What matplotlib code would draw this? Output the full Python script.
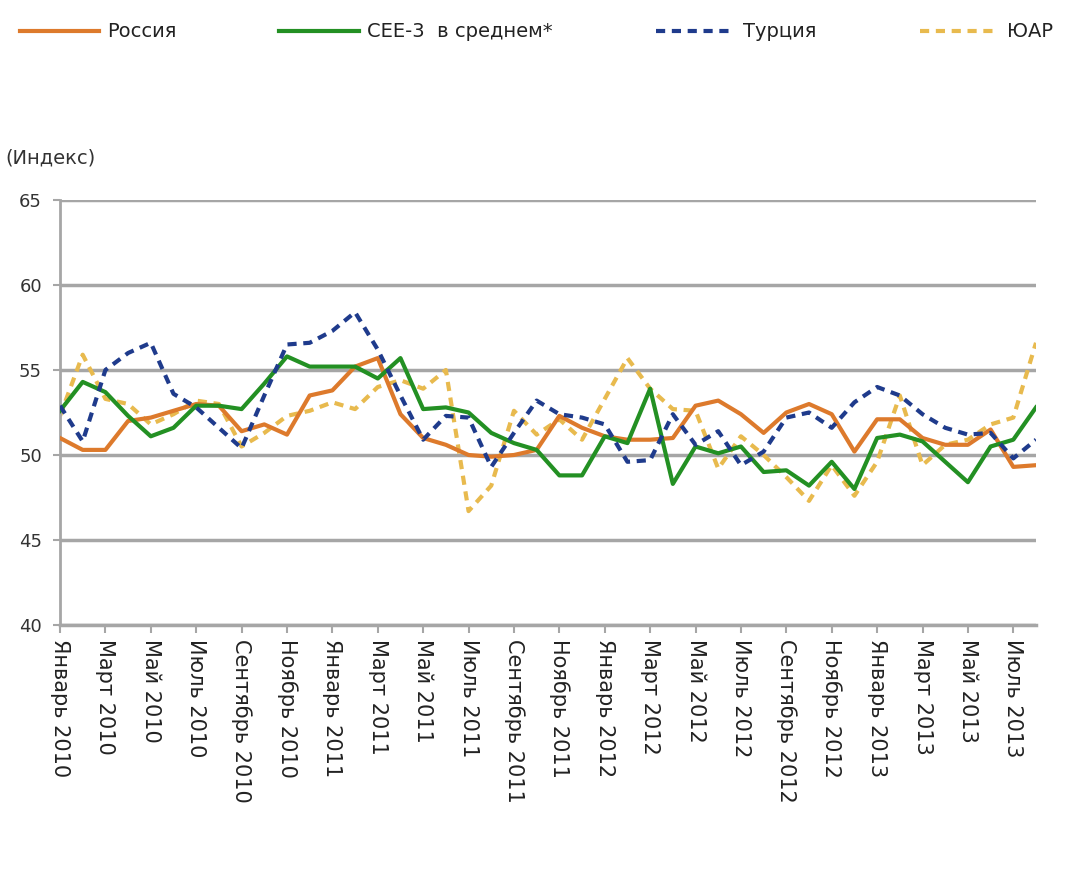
import matplotlib
matplotlib.use("Agg")
import matplotlib.pyplot as plt
import numpy as np

# ---- data ----
months = ["Январь", "Февраль", "Март", "Апрель", "Май", "Июнь", "Июль",
          "Август", "Сентябрь", "Октябрь", "Ноябрь", "Декабрь"]
years = [2010, 2011, 2012, 2013]
n_points = 44  # Jan 2010 .. Aug 2013

russia = [51.0, 50.3, 50.3, 52.0, 52.2, 52.6, 53.0, 52.9, 51.4, 51.8, 51.2, 53.5,
          53.8, 55.2, 55.7, 52.4, 51.0, 50.6, 50.0, 49.9, 50.0, 50.3, 52.3, 51.6,
          51.1, 50.9, 50.9, 51.0, 52.9, 53.2, 52.4, 51.3, 52.5, 53.0, 52.4, 50.2,
          52.1, 52.1, 51.0, 50.6, 50.6, 51.5, 49.3, 49.4]
cee3 = [52.6, 54.3, 53.7, 52.3, 51.1, 51.6, 52.9, 52.9, 52.7, 54.2, 55.8, 55.2,
        55.2, 55.2, 54.5, 55.7, 52.7, 52.8, 52.5, 51.3, 50.7, 50.3, 48.8, 48.8,
        51.1, 50.7, 53.9, 48.3, 50.5, 50.1, 50.5, 49.0, 49.1, 48.2, 49.6, 48.0,
        51.0, 51.2, 50.8, 49.6, 48.4, 50.5, 50.9, 52.8]
turkey = [52.9, 50.8, 55.0, 56.0, 56.6, 53.6, 52.8, 51.6, 50.4, 53.5, 56.5, 56.6,
          57.3, 58.4, 56.2, 53.5, 50.9, 52.3, 52.2, 49.3, 51.3, 53.2, 52.4, 52.2,
          51.8, 49.6, 49.7, 52.4, 50.6, 51.4, 49.4, 50.2, 52.2, 52.5, 51.6, 53.1,
          54.0, 53.5, 52.4, 51.6, 51.2, 51.3, 49.8, 50.9]
south_africa = [52.3, 55.9, 53.3, 53.0, 51.8, 52.4, 53.2, 53.0, 50.5, 51.3, 52.3, 52.6,
                53.1, 52.7, 54.0, 54.4, 53.9, 55.0, 46.7, 48.2, 52.6, 51.2, 52.1, 50.9,
                53.3, 55.7, 53.9, 52.7, 52.6, 49.2, 51.1, 50.0, 48.7, 47.3, 49.4, 47.6,
                49.6, 53.5, 49.4, 50.6, 50.9, 51.8, 52.2, 56.6]

series_names = ["Россия", "CEE-3  в среднем*", "Турция", "ЮАР"]
y_ticks = [40, 45, 50, 55, 60, 65]
y_label = "(Индекс)"

# tick labels every two months
tick_pos = list(range(0, n_points, 2))
tick_labels = [f"{months[i % 12]} {years[i // 12]}" for i in tick_pos]

# ---- style ----
plt.rcParams['font.family'] = ['DejaVu Sans']
fig = plt.figure(figsize=(10.65, 8.82), dpi=100)
ax = fig.add_axes([60/1065, 1-625/882, (1036-60)/1065, (625-200)/882])

x = np.arange(n_points)
c_rus = "#DD7A2C"
c_cee = "#239023"
c_tur = "#1F3B8C"
c_saf = "#E8BA4E"

l1, = ax.plot(x, russia, color=c_rus, lw=3.0, solid_joinstyle='round', zorder=3)
l2, = ax.plot(x, cee3, color=c_cee, lw=3.0, solid_joinstyle='round', zorder=4)
l3, = ax.plot(x, turkey, color=c_tur, lw=3.0, linestyle=(0, (2.2, 1.6)), zorder=5)
l4, = ax.plot(x, south_africa, color=c_saf, lw=3.0, linestyle=(0, (2.2, 1.6)), zorder=2)

ax.set_xlim(0, n_points - 1)
ax.set_ylim(40, 65)
ax.set_yticks(y_ticks)
ax.set_yticklabels([str(v) for v in y_ticks], fontsize=13, color="#333333")
ax.yaxis.grid(True, color="#A6A6A6", lw=2.5)
ax.set_axisbelow(True)

ax.set_xticks(tick_pos)
ax.set_xticklabels(tick_labels, rotation=-90, fontsize=15, color="#222222",
                   ha='center', va='top')
ax.tick_params(axis='x', length=6, width=1.5, color="#A6A6A6", pad=4)
ax.tick_params(axis='y', length=5, width=1.5, color="#A6A6A6", pad=8)

for s in ["top", "right"]:
    ax.spines[s].set_visible(False)
ax.spines["left"].set_color("#A6A6A6")
ax.spines["left"].set_linewidth(2)
ax.spines["bottom"].set_color("#A6A6A6")
ax.spines["bottom"].set_linewidth(2.5)

fig.text(5/1065, 1-158/882, y_label, fontsize=14, color="#333333", va='center', ha='left')

fig.legend([l1, l2, l3, l4], series_names, loc='upper left',
           bbox_to_anchor=(2/1065, 1-5/882), ncol=4, frameon=False,
           fontsize=14, handlelength=4.1, handletextpad=0.4, columnspacing=5.3,
           labelcolor="#222222")

fig.savefig("out.png", dpi=100)
